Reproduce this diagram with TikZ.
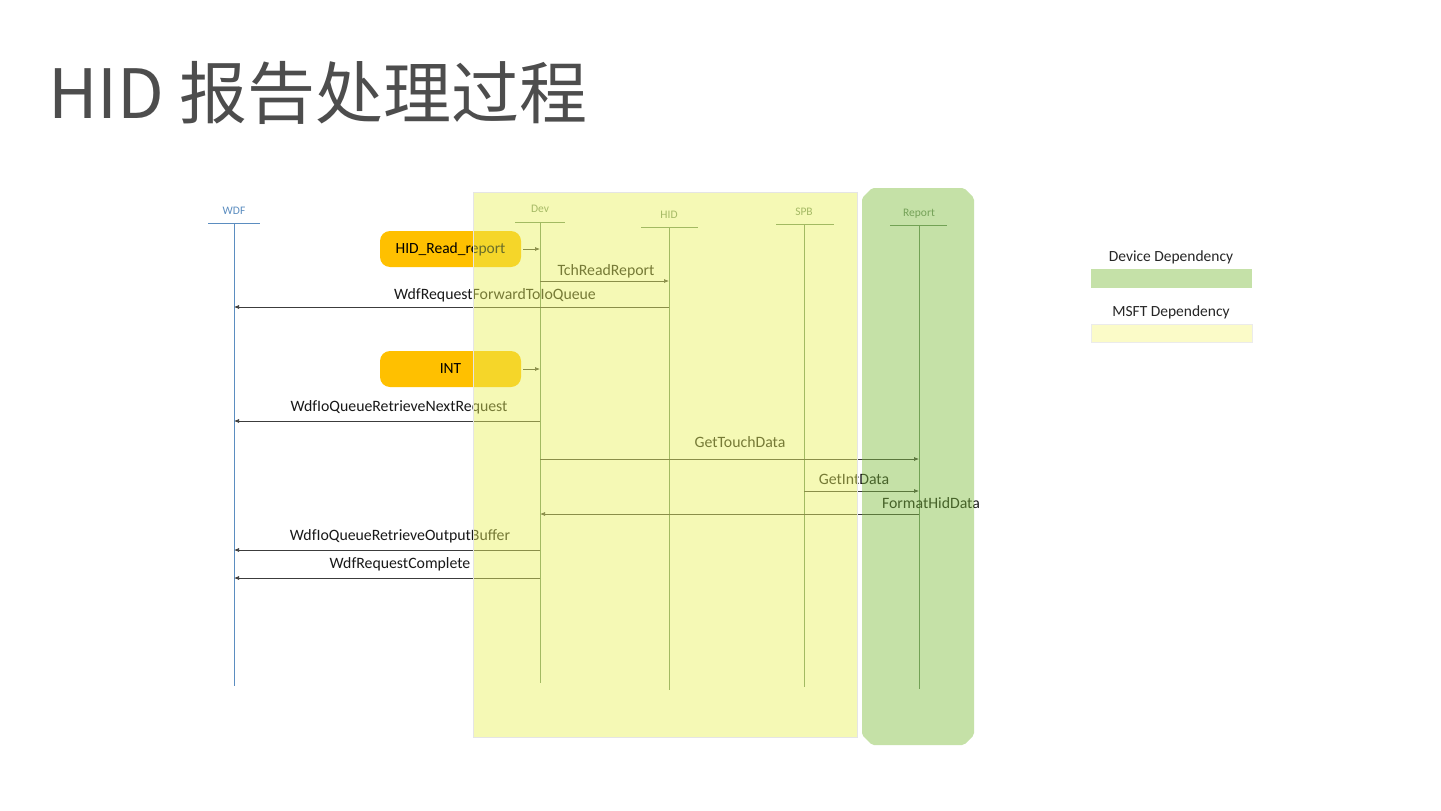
\documentclass[tikz,border=0pt]{standalone}
\usepackage{fontspec}
\setmainfont{Carlito}
\newfontfamily\cjkfont{Noto Sans CJK SC}
\usetikzlibrary{arrows.meta}
\definecolor{ttl}{HTML}{4D4D4D}
\definecolor{msfty}{RGB}{233,242,91}
\definecolor{devg}{RGB}{127,189,62}
\definecolor{orng}{HTML}{FFC000}
\definecolor{lifeg}{RGB}{105,140,105}
\definecolor{headg}{RGB}{110,140,110}
\definecolor{lifeb}{RGB}{91,141,192}
\definecolor{msgc}{RGB}{60,60,60}
\definecolor{legg}{RGB}{197,225,168}
\definecolor{legy}{RGB}{251,251,200}
\begin{document}
\begin{tikzpicture}[x=1pt,y=-1pt,
  msg/.style={draw=msgc, line width=0.7pt, -{Latex[length=5pt,width=4pt]}},
  lbl/.style={font=\fontsize{15.8}{17}\selectfont, text=black!90, inner sep=0pt, anchor=base},
  life/.style={draw=lifeg, line width=1pt},
  head/.style={font=\fontsize{11.5}{13}\selectfont, text=headg, inner sep=0pt},
  trig/.style={fill=orng, rounded corners=10pt, minimum width=141pt, minimum height=36pt, inner sep=0pt, font=\fontsize{15.5}{18}\selectfont},
  legtext/.style={font=\fontsize{15.5}{17}\selectfont, text=black!85, inner sep=0pt}
]
\useasboundingbox (0,0) rectangle (1441,811);
\fill[white] (0,0) rectangle (1441,811);

% title
\node[anchor=base west, inner sep=0pt, text=ttl, font=\cjkfont\fontsize{68}{80}\selectfont] (title) at (48,118) {HID 报告处理过程};

% trigger boxes
\node[trig] (rr) at (450.5,249) {HID\_Read\_report};
\node[trig] (int) at (450.5,369) {INT};

% lifelines
\node[head, text=lifeb] (wdfl) at (234,211) {WDF};
\coordinate (wdft) at (234,223); \coordinate (wdfb) at (234,686);
\draw[lifeb, line width=1pt] (208,223) -- (260,223);
\draw[lifeb, line width=1pt] (wdft) -- (wdfb);

\node[head] (devl) at (540,209) {Dev};
\coordinate (devt) at (540,222); \coordinate (devb) at (540,683);
\draw[life] (515,222) -- (565,222);
\draw[life] (devt) -- (devb);

\node[head] (hidl) at (669,215) {HID};
\coordinate (hidt) at (669,227); \coordinate (hidb) at (669,690);
\draw[life] (641,227) -- (698,227);
\draw[life] (hidt) -- (hidb);

\node[head] (spbl) at (804,212) {SPB};
\coordinate (spbt) at (804,224); \coordinate (spbb) at (804,687);
\draw[life] (776,224) -- (834,224);
\draw[life] (spbt) -- (spbb);

\node[head] (repl) at (919,214) {Report};
\coordinate (rept) at (919,225); \coordinate (repb) at (919,689);
\draw[life] (890,225) -- (947,225);
\draw[life] (rept) -- (repb);

% messages
\draw[msg, shorten <=2pt] (rr.east) -- (devt |- rr.east);
\draw[msg, shorten <=2pt] (int.east) -- (devt |- int.east);

\draw[msg] (devt |- 0,281) -- (hidt |- 0,281);
\node[lbl] (m1) at (606,275) {TchReadReport};

\draw[msg] (hidt |- 0,307) -- (wdft |- 0,307);
\node[lbl] (m2) at (495,299) {WdfRequestForwardToIoQueue};

\draw[msg] (devt |- 0,421) -- (wdft |- 0,421);
\node[lbl] (m3) at (399,411) {WdfIoQueueRetrieveNextRequest};

\draw[msg] (devt |- 0,459) -- (rept |- 0,459);
\node[lbl] (m4) at (740,447) {GetTouchData};

\draw[msg] (spbt |- 0,491) -- (rept |- 0,491);
\node[lbl] (m5) at (854,484) {GetIntData};

\draw[msg] (rept |- 0,514) -- (devt |- 0,514);
\node[lbl] (m6) at (931,508) {FormatHidData};

\draw[msg] (devt |- 0,550) -- (wdft |- 0,550);
\node[lbl] (m7) at (400,540) {WdfIoQueueRetrieveOutputBuffer};

\draw[msg] (devt |- 0,578) -- (wdft |- 0,578);
\node[lbl] (m8) at (400,568) {WdfRequestComplete};

% dependency regions (translucent overlays)
\fill[msfty, fill opacity=0.45] (473,192) rectangle (857,737);
\draw[black!10, line width=0.8pt] (473,192) rectangle (857,737);
\fill[devg, fill opacity=0.45, rounded corners=2pt] (872,188) -- (964,188) -- (974,198) -- (974,735) -- (964,745) -- (872,745) -- (862,735) -- (862,198) -- cycle;

% legend
\node[legtext] (lg1) at (1171,257) {Device Dependency};
\node[fill=legg, minimum width=161pt, minimum height=19pt, inner sep=0pt] (lb1) at (1171.5,278.5) {};
\node[legtext] (lg2) at (1171,312) {MSFT Dependency};
\node[fill=legy, draw=black!8, minimum width=161pt, minimum height=18pt, inner sep=0pt] (lb2) at (1171.5,333) {};
\end{tikzpicture}
\end{document}
